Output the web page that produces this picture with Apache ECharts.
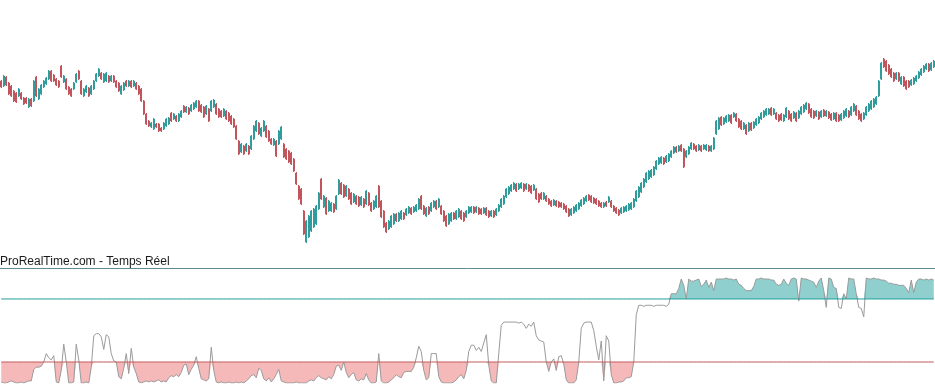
<!DOCTYPE html>
<html>
<head>
<meta charset="utf-8">
<script src="https://cdn.jsdelivr.net/npm/echarts@6/dist/echarts.min.js"></script>
<style>
html,body{margin:0;padding:0;background:#fff;}
#c{width:935px;height:392px;}
</style>
</head>
<body>
<div id="c"></div>
<script>
// price bars: [open, close, low, high]
const ohlc = [
[179,173,172,180],[174,184,173,185],[183,175,174,184],[177,166,165,178],[174,164,163,175],[169,159,158,170],[167,158,157,168],[164,171,163,172],[167,161,160,168],[162,156,155,163],[162,157,156,163],[153,161,152,162],
[161,154,153,162],[159,179,158,180],[183,164,163,184],[161,171,160,172],[166,175,165,176],[173,179,172,180],[176,182,175,183],[181,189,180,190],[189,179,178,190],[185,179,178,186],[181,175,174,182],[179,173,172,180],
[194,183,182,195],[178,184,177,185],[181,171,170,182],[173,166,165,174],[171,164,163,172],[171,177,170,178],[178,186,177,187],[189,181,180,190],[179,166,165,180],[164,171,163,172],[168,174,167,175],[172,164,163,173],
[166,174,165,175],[171,179,170,180],[179,186,178,187],[184,191,183,192],[187,181,180,188],[178,186,177,187],[179,187,178,188],[184,178,177,185],[179,184,178,185],[184,178,177,185],[179,173,172,180],[177,169,168,178],
[166,174,165,175],[170,177,169,178],[179,174,173,180],[174,179,173,180],[179,173,172,180],[174,179,173,180],[177,171,170,178],[174,166,165,175],[171,159,158,172],[159,146,145,160],[146,136,135,147],[139,134,133,140],
[133,137,132,138],[131,141,130,142],[136,133,132,137],[136,129,128,137],[132,129,128,133],[131,137,130,138],[134,141,133,142],[136,142,135,143],[147,139,138,148],[141,146,140,147],[144,139,138,145],[139,146,138,147],
[143,149,142,150],[154,148,147,155],[148,153,147,154],[152,146,145,153],[149,155,148,156],[151,157,150,158],[153,159,152,160],[159,149,148,160],[155,148,147,156],[153,143,142,154],[146,154,145,155],[151,139,138,152],
[149,159,148,160],[153,160,152,161],[156,146,145,157],[151,143,142,152],[149,143,142,150],[144,151,143,152],[149,141,140,150],[147,139,138,148],[144,136,135,145],[141,133,132,142],[134,121,120,135],[119,106,105,120],
[108,116,107,117],[114,106,105,115],[109,116,108,117],[114,106,105,115],[111,124,110,125],[121,134,120,135],[129,139,128,140],[137,126,125,138],[124,132,123,133],[129,139,128,140],[134,123,122,135],[129,119,118,130],
[121,116,115,122],[115,121,114,122],[119,104,103,120],[116,129,115,130],[121,133,120,134],[116,103,102,117],[111,101,100,112],[109,98,97,110],[107,96,95,108],[101,89,88,102],[87,76,75,88],[74,61,60,75],
[71,56,55,72],[49,26,25,50],[18,39,17,40],[23,44,22,45],[29,49,28,50],[33,51,32,52],[36,54,35,55],[51,67,50,68],[81,61,60,82],[53,64,52,65],[62,46,45,63],[49,59,48,60],
[49,57,48,58],[56,48,47,57],[51,64,50,65],[66,80,65,81],[77,66,65,78],[75,63,62,76],[64,74,63,75],[71,61,60,72],[67,56,55,68],[58,66,57,67],[64,56,55,65],[63,54,53,64],
[55,63,54,64],[61,53,52,62],[56,69,55,70],[67,55,54,68],[57,49,48,58],[51,59,50,60],[53,64,52,65],[74,53,52,75],[59,43,42,60],[49,33,32,50],[37,28,27,38],[31,39,30,40],
[33,44,32,45],[36,46,35,47],[46,39,38,47],[39,47,38,48],[41,49,40,50],[47,41,40,48],[45,51,44,52],[47,53,46,54],[52,46,45,53],[48,53,47,54],[49,55,48,56],[51,61,50,62],
[64,51,50,65],[54,46,45,55],[44,52,43,53],[53,46,45,54],[49,57,48,58],[53,59,52,60],[59,51,50,60],[53,61,52,62],[54,46,45,55],[49,39,38,50],[44,34,33,45],[36,46,35,47],
[39,47,38,48],[47,41,40,48],[41,49,40,50],[43,51,42,52],[49,41,40,50],[47,39,38,48],[43,49,42,50],[47,53,46,54],[48,53,47,54],[53,47,46,54],[48,53,47,54],[52,46,45,53],
[51,46,45,52],[47,52,46,53],[52,45,44,53],[49,43,42,50],[44,49,43,50],[49,43,42,50],[45,51,44,52],[49,55,48,56],[53,61,52,62],[56,64,55,65],[63,71,62,72],[66,73,65,74],
[69,75,68,76],[71,77,70,78],[76,69,68,77],[71,76,70,77],[72,77,71,78],[76,69,68,77],[71,76,70,77],[75,69,68,76],[74,67,66,75],[70,75,69,76],[71,61,60,72],[66,58,57,67],
[67,61,60,68],[61,67,60,68],[64,59,58,65],[61,56,55,62],[59,54,53,60],[55,60,54,61],[59,54,53,60],[58,53,52,59],[57,53,52,58],[56,51,50,57],[54,48,47,55],[51,44,43,52],
[45,51,44,52],[47,53,46,54],[49,55,48,56],[51,57,50,58],[54,60,53,61],[56,62,55,63],[59,64,58,65],[65,60,59,66],[64,58,57,65],[62,57,56,63],[61,56,55,62],[59,54,53,60],
[57,53,52,58],[53,57,52,58],[58,54,53,59],[58,63,57,64],[59,53,52,60],[54,49,48,55],[52,47,46,53],[50,45,44,51],[47,52,46,53],[48,53,47,54],[49,54,48,55],[50,56,49,57],
[51,57,50,58],[53,61,52,62],[59,69,58,70],[63,73,62,74],[68,77,67,78],[73,81,72,82],[78,87,77,88],[81,89,80,90],[83,90,82,91],[85,93,84,94],[91,99,90,100],[96,102,95,103],
[97,103,96,104],[102,96,95,103],[98,104,97,105],[99,106,98,107],[103,109,102,110],[107,113,106,114],[113,108,107,114],[109,114,108,115],[115,109,108,116],[111,93,92,112],[103,109,102,110],[106,113,105,114],
[111,117,110,118],[116,111,110,117],[114,109,108,115],[110,115,109,116],[114,109,108,115],[111,115,110,116],[110,115,109,116],[114,109,108,115],[109,114,108,115],[111,122,110,123],[126,139,125,140],[131,142,130,143],
[143,135,134,144],[136,142,135,143],[138,144,137,145],[139,145,138,146],[145,137,136,146],[143,147,142,148],[146,139,138,147],[141,133,132,142],[139,131,130,140],[131,137,130,138],[135,126,125,136],[129,137,128,138],
[137,130,129,138],[132,138,131,139],[135,141,134,142],[137,143,136,144],[141,147,140,148],[143,149,142,150],[145,151,144,152],[146,151,145,152],[152,145,144,153],[146,151,145,152],[147,141,140,148],[145,139,138,146],
[146,140,139,147],[139,145,138,146],[143,152,142,153],[149,141,140,150],[146,139,138,147],[142,148,141,149],[147,139,138,148],[142,149,141,150],[146,153,145,154],[148,155,147,156],[151,157,150,158],[156,147,146,157],
[151,143,142,152],[149,142,141,150],[144,149,143,150],[148,141,140,149],[143,149,142,150],[150,144,143,151],[144,149,143,150],[148,142,141,149],[146,140,139,147],[141,147,140,148],[147,139,138,148],[145,139,138,146],
[140,146,139,147],[142,149,141,150],[144,151,143,152],[149,143,142,150],[145,153,144,154],[149,156,148,157],[154,145,144,155],[149,141,140,150],[146,139,138,147],[141,147,140,148],[145,153,144,154],[149,156,148,157],
[151,159,150,160],[153,161,152,162],[156,163,155,164],[164,179,163,180],[181,197,180,198],[201,193,192,202],[199,189,188,200],[195,186,185,196],[191,183,182,192],[187,179,178,188],[181,187,180,188],[187,179,178,188],
[176,183,175,184],[183,174,173,184],[179,171,170,180],[179,173,172,180],[175,180,174,181],[176,182,175,183],[179,184,178,185],[182,188,181,189],[185,191,184,192],[188,194,187,195],[191,196,190,197],[196,189,188,197],
[190,197,189,198],[193,199,192,200]
];

// oscillator (0-100)
const oscillator = [
1,0,0,1,2,1,0,0,1,0,1,2,
2,13,15,15,16,20,28,24,22,26,1,0,
12,37,20,0,0,1,37,22,0,0,1,0,
15,45,47,47,44,32,46,44,28,21,20,6,
4,14,28,9,33,15,9,1,0,1,2,1,
2,1,2,3,1,2,1,5,7,6,8,6,
10,17,18,8,13,17,25,14,4,3,2,4,
34,12,1,0,1,0,0,1,0,0,1,0,
1,0,2,4,7,8,5,14,12,4,2,5,
1,4,8,13,2,1,0,0,0,0,1,0,
0,0,0,2,3,2,5,7,5,4,3,6,
4,8,16,17,12,20,10,5,8,10,3,2,
4,3,9,3,0,0,1,28,2,0,0,1,
3,5,8,6,5,10,11,11,11,15,24,35,
30,12,3,5,28,28,28,6,1,0,0,0,
0,1,3,6,8,4,12,30,36,36,31,34,
30,38,46,17,2,0,0,28,55,58,58,58,
58,58,58,57,58,56,52,56,54,58,45,41,
40,39,20,11,20,23,12,25,26,18,3,0,
0,0,3,20,52,57,58,58,58,50,35,22,
40,2,45,40,8,0,0,1,1,2,5,5,
6,20,65,74,74,73,74,74,74,73,74,74,
74,74,73,75,85,85,85,90,99,93,80,99,
97,97,98,99,92,94,98,91,96,88,99,99,
99,99,100,99,99,98,99,94,93,90,88,88,
88,92,99,99,100,99,99,99,98,98,94,93,
94,99,95,93,99,100,99,78,100,99,99,98,
97,96,91,97,100,88,72,100,99,91,90,72,
71,85,80,100,99,99,85,72,71,63,100,99,
99,100,99,99,98,98,97,95,95,94,94,93,
93,93,90,86,98,86,96,99,99,98,99,98,
99,98
];

const categories = ohlc.map((_, i) => i + 1);
const upperLevel = 80;
const lowerLevel = 20;
const titleText = 'ProRealTime.com - Temps Réel';

const upBase = oscillator.map(() => upperLevel);
const upFill = oscillator.map(v => Math.max(v - upperLevel, 0));
const dnBase = oscillator.map(v => Math.min(v, lowerLevel));
const dnFill = oscillator.map(v => lowerLevel - Math.min(v, lowerLevel));

const chart = echarts.init(document.getElementById('c'), null, {renderer: 'canvas'});
const hidden = {show: false};
const noLine = {color: 'rgba(0,0,0,0)', opacity: 0};
chart.setOption({
  animation: false,
  backgroundColor: '#ffffff',
  title: {
    text: titleText, left: 0, top: 256, padding: 0,
    textStyle: {fontFamily: 'Liberation Sans, Arial, sans-serif', fontSize: 12, fontWeight: 'normal', color: '#1a1a1a'}
  },
  grid: [
    {left: 0, right: 0, top: 0, height: 255},
    {left: 0, right: 0, top: 268, height: 115}
  ],
  xAxis: [
    {type: 'category', data: categories, gridIndex: 0, boundaryGap: true,
     axisLine: hidden, axisTick: hidden, axisLabel: hidden, splitLine: hidden},
    {type: 'category', data: categories, gridIndex: 1, boundaryGap: true, position: 'top',
     axisLine: {show: true, onZero: false, lineStyle: {color: '#5f8a96', width: 1}}, axisTick: hidden, axisLabel: hidden, splitLine: hidden}
  ],
  yAxis: [
    {type: 'value', gridIndex: 0, min: 5, max: 260, axisLine: hidden, axisTick: hidden, axisLabel: hidden, splitLine: hidden},
    {type: 'value', gridIndex: 1, min: 0, max: 109.5, axisLine: hidden, axisTick: hidden, axisLabel: hidden, splitLine: hidden}
  ],
  series: [
    {
      type: 'candlestick', xAxisIndex: 0, yAxisIndex: 0, data: ohlc, barWidth: 1.6,
      itemStyle: {color: '#2f9d9b', color0: '#c2545c', borderColor: '#2f9d9b', borderColor0: '#c2545c', borderWidth: 1}
    },
    {type: 'line', xAxisIndex: 1, yAxisIndex: 1, stack: 'up', data: upBase, symbol: 'none',
     lineStyle: noLine, silent: true},
    {type: 'line', xAxisIndex: 1, yAxisIndex: 1, stack: 'up', data: upFill, symbol: 'none',
     lineStyle: noLine, areaStyle: {color: '#8fd0cf', opacity: 1}, silent: true},
    {type: 'line', xAxisIndex: 1, yAxisIndex: 1, stack: 'dn', data: dnBase, symbol: 'none',
     lineStyle: noLine, silent: true},
    {type: 'line', xAxisIndex: 1, yAxisIndex: 1, stack: 'dn', data: dnFill, symbol: 'none',
     lineStyle: noLine, areaStyle: {color: '#f5b9ba', opacity: 1}, silent: true},
    {
      type: 'line', xAxisIndex: 1, yAxisIndex: 1, data: oscillator, symbol: 'none', z: 3,
      lineStyle: {color: '#9a9a9a', width: 1}
    },
    {type: 'line', xAxisIndex: 1, yAxisIndex: 1, data: upBase, symbol: 'none', silent: true, z: 10,
     lineStyle: {color: '#1a9b9b', width: 1}},
    {type: 'line', xAxisIndex: 1, yAxisIndex: 1, data: oscillator.map(() => lowerLevel), symbol: 'none', silent: true, z: 10,
     lineStyle: {color: '#c0585a', width: 1}}
  ]
});
</script>
</body>
</html>
